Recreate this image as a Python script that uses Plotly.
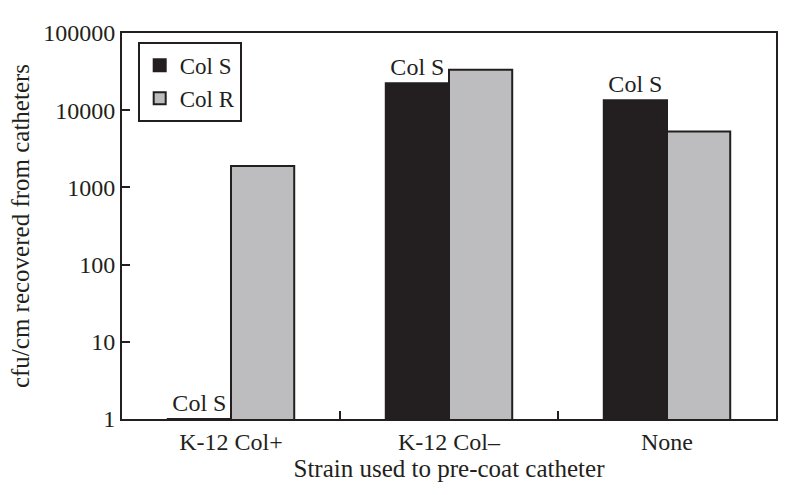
import plotly.graph_objects as go

# ---------- data ----------
strains = ["K-12 Col+", "K-12 Col\u2013", "None"]
col_s = [1, 22300, 13500]      # Col S not recovered on K-12 Col+ coated catheters
col_r = [1900, 33500, 5300]
col_s_labels = ["Col S", "Col S", "Col S"]

y_ticks = [1, 10, 100, 1000, 10000, 100000]
y_tick_text = ["1", "10", "100", "1000", "10000", "100000"]

INK = "#231f20"
GREY = "#bdbdbf"
FONT = "Liberation Serif, Times New Roman, serif"

fig = go.Figure()

fig.add_trace(go.Bar(
    x=strains,
    y=col_s,
    name="Col S",
    marker=dict(color=INK, line=dict(color=INK, width=2)),
    text=col_s_labels,
    textposition="outside",
    textfont=dict(family=FONT, size=24, color=INK),
    cliponaxis=False,
))
fig.add_trace(go.Bar(
    x=strains,
    y=col_r,
    name="Col R",
    marker=dict(color=GREY, line=dict(color=INK, width=2)),
))

fig.update_layout(
    barmode="group",
    bargap=0.42,
    bargroupgap=0,
    width=800,
    height=495,
    margin=dict(l=122, r=24, t=33, b=76),
    plot_bgcolor="white",
    paper_bgcolor="white",
    font=dict(family=FONT, size=24, color=INK),
    showlegend=True,
    legend=dict(
        x=0.024, y=0.977,
        xanchor="left", yanchor="top",
        bordercolor=INK, borderwidth=2,
        bgcolor="white",
        font=dict(family=FONT, size=23, color=INK),
        tracegroupgap=0,
        itemwidth=30,
    ),
    xaxis=dict(
        title=dict(text="Strain used to pre-coat catheter", standoff=4,
                   font=dict(family=FONT, size=25, color=INK)),
        tickfont=dict(family=FONT, size=24, color=INK),
        showline=True, linecolor=INK, linewidth=2, mirror=True,
        ticks="inside", tickson="boundaries", ticklen=8,
        tickcolor=INK, tickwidth=2,
        showgrid=False,
    ),
    yaxis=dict(
        type="log",
        range=[0, 5],
        title=dict(text="cfu/cm recovered from catheters", standoff=6,
                   font=dict(family=FONT, size=25, color=INK)),
        tickfont=dict(family=FONT, size=24, color=INK),
        tickvals=y_ticks,
        ticktext=y_tick_text,
        showline=True, linecolor=INK, linewidth=2, mirror=True,
        ticks="inside", ticklen=8, tickcolor=INK, tickwidth=2,
        showgrid=False, zeroline=False,
    ),
)

fig.write_html("out.html", config={"displayModeBar": False},
               post_script="document.body.style.margin='0';")
